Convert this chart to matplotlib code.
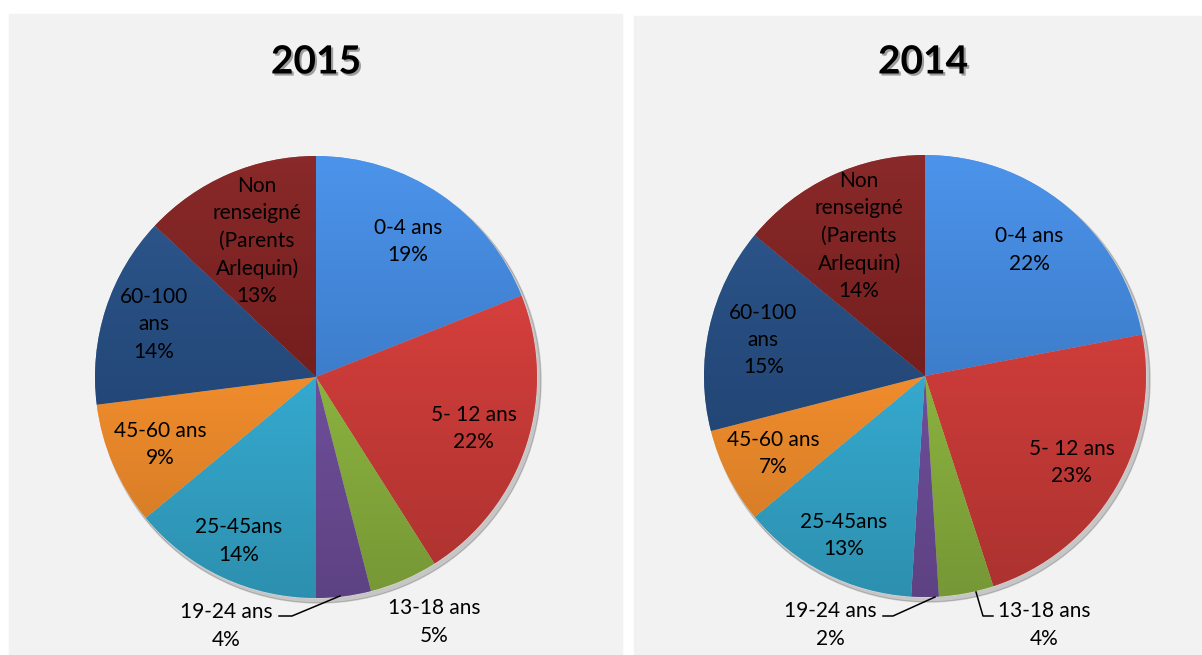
import numpy as np
import matplotlib.pyplot as plt
from matplotlib.patches import Rectangle, Circle
from matplotlib.colors import to_rgb, LinearSegmentedColormap
import matplotlib.patheffects as pe

plt.rcParams['font.family'] = ['Lato', 'DejaVu Sans']

# data
categories = ['0-4 ans', '5- 12 ans', '13-18 ans', '19-24 ans', '25-45ans',
              '45-60 ans', '60-100\nans', 'Non\nrenseigné\n(Parents\nArlequin)']
values_2015 = [19, 22, 5, 4, 14, 9, 14, 13]
values_2014 = [22, 23, 4, 2, 13, 7, 15, 14]
colors = ['#3D7DCB', '#C93B38', '#8BB23F', '#6E4E9A',
          '#35A9CE', '#F08C2C', '#24497A', '#741E1E']

W, H = 1202, 655
R = 221

def Y(y):
    # pixel row (from top) -> data y
    return H - y

panels = [
    dict(title='2015', values=values_2015, bg=(9, 14, 622, 655),
         center=(316, 377), title_pos=(316, 62),
         rad=[0.74, 0.75, None, None, 0.82, 0.77, 0.77, 0.67],
         outside={2: ((434, 622), None),
                  3: ((226, 626), [(340, 596), (292, 616), (279, 616)])}),
    dict(title='2014', values=values_2014, bg=(634, 16, 1202, 655),
         center=(925, 376), title_pos=(923, 62),
         rad=[0.74, 0.77, None, None, 0.81, 0.77, 0.75, 0.70],
         outside={2: ((1044, 625), [(976, 592), (983, 616), (993, 616)]),
                  3: ((830, 625), [(935, 597), (893, 616), (883, 616)])}),
]

fig = plt.figure(figsize=(W / 100, H / 100), dpi=100)
ax = fig.add_axes([0, 0, 1, 1])

grad = np.linspace(0, 1, 256).reshape(-1, 1)

for p in panels:
    x0, y0, x1, y1 = p['bg']
    ax.add_patch(Rectangle((x0, Y(y1)), x1 - x0, y1 - y0, color='#F2F2F2', zorder=0))

    cx, cy = p['center'][0], Y(p['center'][1])
    ax.add_patch(Circle((cx + 3, cy - 4), R + 1, color='#000000', alpha=0.18, zorder=1))

    wedges, _ = ax.pie(p['values'], colors=colors, startangle=90, counterclock=False,
                       center=(cx, cy), radius=R, frame=True,
                       wedgeprops=dict(linewidth=0.8, edgecolor=(1, 1, 1, 0.35)))
    for w, c in zip(wedges, colors):
        w.set_zorder(2)
        rgb = np.array(to_rgb(c))
        light = np.clip(rgb * 1.12 + 0.03, 0, 1)
        dark = rgb * 0.85
        cmap = LinearSegmentedColormap.from_list('g', [dark, rgb, light])
        im = ax.imshow(grad, extent=[cx - R, cx + R, cy - R, cy + R], origin='lower',
                       cmap=cmap, zorder=2.5, aspect='auto', interpolation='bilinear')
        im.set_clip_path(w)

    for i, (w, v) in enumerate(zip(wedges, p['values'])):
        text = f'{categories[i]}\n{v}%'
        if p['rad'][i] is not None:
            mid = np.deg2rad((w.theta1 + w.theta2) / 2)
            r = p['rad'][i] * R
            ax.text(cx + r * np.cos(mid), cy + r * np.sin(mid), text,
                    ha='center', va='center', fontsize=15, linespacing=1.45,
                    color='black', zorder=5)
        else:
            (tx, ty), leader = p['outside'][i]
            ax.text(tx, Y(ty), text, ha='center', va='center', fontsize=15,
                    linespacing=1.45, color='black', zorder=5)
            if leader:
                ax.plot([q[0] for q in leader], [Y(q[1]) for q in leader],
                        color='black', lw=1.1, zorder=5)

    ax.text(p['title_pos'][0], Y(p['title_pos'][1]), p['title'], ha='center', va='center',
            fontsize=28, fontweight='bold', color='black', zorder=5,
            path_effects=[pe.withSimplePatchShadow(offset=(1.5, -1.5), alpha=0.35)])

ax.set_xlim(0, W)
ax.set_ylim(0, H)
ax.set_aspect('equal')
ax.axis('off')

plt.savefig('out.png', dpi=100, facecolor='white')
